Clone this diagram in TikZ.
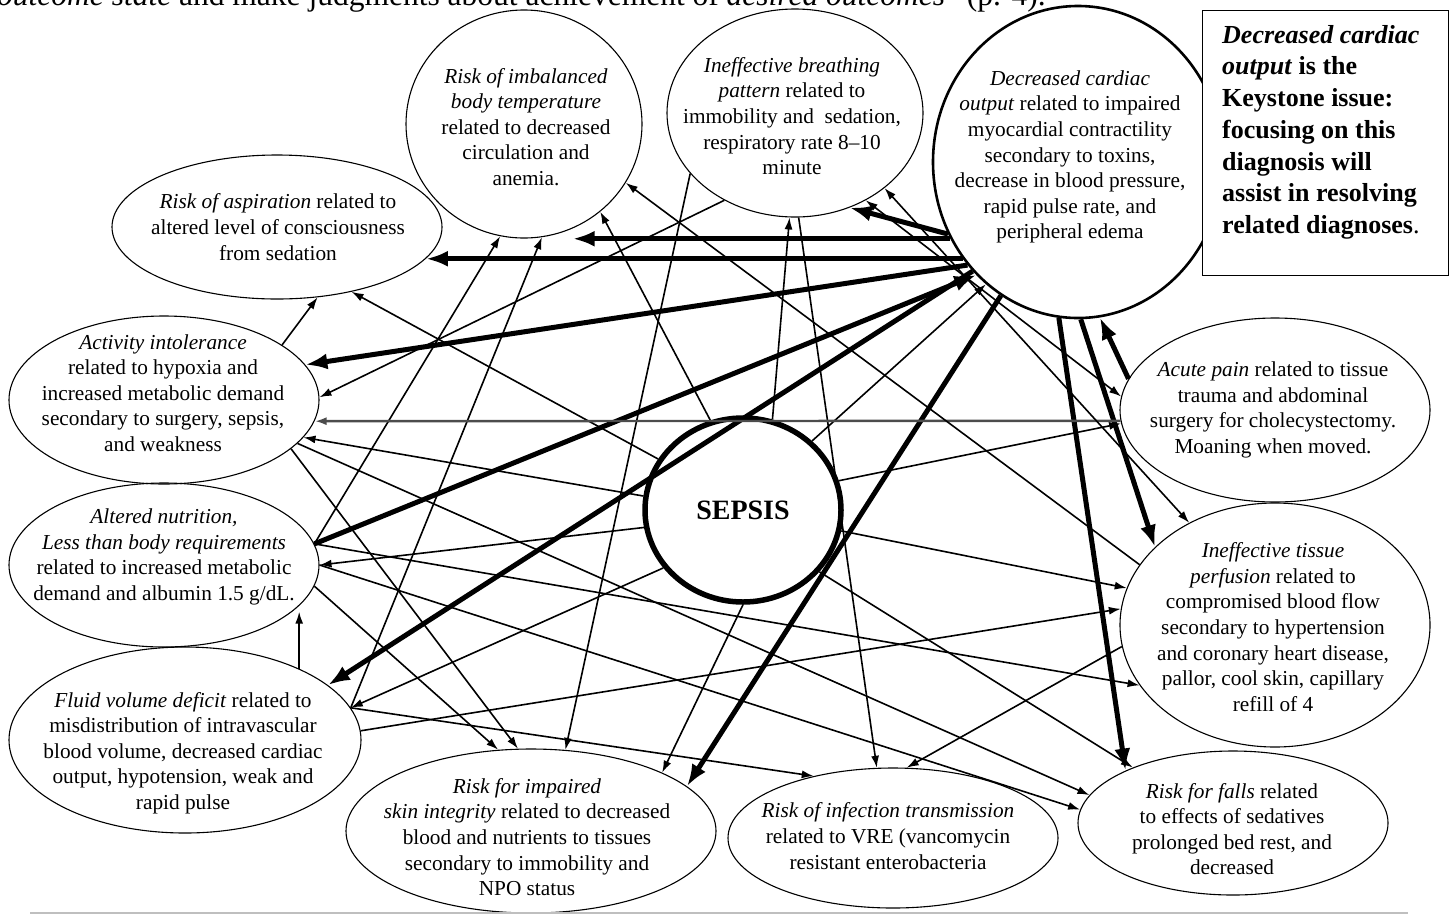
\documentclass[tikz,border=0pt]{standalone}
\usepackage{fontspec}
\setmainfont{Liberation Serif}
\usetikzlibrary{arrows.meta,shapes.geometric}
\def\diagfont{\fontsize{21.3}{25.6}\selectfont}
\def\keyfont{\fontsize{26}{31.7}\selectfont\bfseries}

\begin{document}
\begin{tikzpicture}[x=1pt, y=-1pt,
		diag/.style={draw, ellipse, line width=1.1pt, inner sep=0pt},
		diagtext/.style={align=center, inner sep=0pt, font=\diagfont},
		link/.style={line width=1.6pt, -{Latex[length=12pt, width=8pt]}},
		twoway/.style={line width=1.6pt, {Latex[length=12pt, width=8pt]}-{Latex[length=12pt, width=8pt]}},
		keylink/.style={line width=5pt, -{Latex[length=22pt, width=16pt]}},
		greylink/.style={line width=2.4pt, color=black!70, -{Latex[length=12pt, width=8pt]}}]
			%%%%% START %%%%%
			\useasboundingbox (0, 0) rectangle (1450, 914);
			
			\begin{scope}
				\clip (0, 0) rectangle (1450, 914);
				\node[anchor=base west, inner sep=0pt, font=\fontsize{31.5}{33}\selectfont] (intro) at (-3, 5) {\textit{outcome state} and make judgments about achievement of \textit{desired outcomes}” (p. 4).};
			\end{scope}
			
			% diagnoses
			\node[diag, minimum width=330, minimum height=144] (asp) at (277, 227) {};
			\node[diagtext] (asptext) at (278, 227) {\textit{Risk of aspiration} related to\\altered level of consciousness\\from sedation};
			
			\node[diag, minimum width=236, minimum height=228] (temp) at (524, 124) {};
			\node[diagtext] (temptext) at (526, 127) {\textit{Risk of imbalanced}\\\textit{body temperature}\\related to decreased\\circulation and\\anemia.};
			
			\node[diag, minimum width=256, minimum height=208] (breath) at (795, 113) {};
			\node[diagtext] (breathtext) at (792, 116) {\textit{Ineffective breathing}\\\textit{pattern} related to\\immobility and\ \ sedation,\\respiratory rate 8--10\\minute};
			
			\node[diag, line width=2.6pt, minimum width=290, minimum height=312] (cardiac) at (1078, 162) {};
			\node[diagtext] (cardiactext) at (1070, 157) {\textit{Decreased cardiac}\\\textit{output} related to impaired\\myocardial contractility\\secondary to toxins,\\decrease in blood pressure,\\rapid pulse rate, and\\peripheral edema};
			
			\node[diag, minimum width=310, minimum height=168] (activity) at (164, 400) {};
			\node[diagtext] (activitytext) at (163, 393) {\textit{Activity intolerance}\\related to hypoxia and\\increased metabolic demand\\secondary to surgery, sepsis,\\and weakness};
			
			\node[diag, minimum width=310, minimum height=164] (nutri) at (164, 565) {};
			\node[diagtext] (nutritext) at (164, 557) {\textit{Altered nutrition,}\\\textit{Less than body requirements}\\related to increased metabolic\\demand and albumin 1.5 g/dL.};
			
			\node[diag, minimum width=352, minimum height=186] (fluid) at (185, 740) {};
			\node[diagtext] (fluidtext) at (183, 753) {\textit{Fluid volume deficit} related to\\misdistribution of intravascular\\blood volume, decreased cardiac\\output, hypotension, weak and\\rapid pulse};
			
			\node[diag, minimum width=370, minimum height=164] (skin) at (531, 831) {};
			\node[diagtext] (skintext) at (527, 837) {\textit{Risk for impaired}\\\textit{skin integrity} related to decreased\\blood and nutrients to tissues\\secondary to immobility and\\NPO status};
			
			\node[diag, minimum width=330, minimum height=140] (infect) at (893, 838) {};
			\node[diagtext] (infecttext) at (888, 836) {\textit{Risk of infection transmission}\\related to VRE (vancomycin\\resistant enterobacteria};
			
			\node[diag, minimum width=310, minimum height=144] (falls) at (1233, 823) {};
			\node[diagtext] (fallstext) at (1232, 829) {\textit{Risk for falls} related\\to effects of sedatives\\prolonged bed rest, and\\decreased};
			
			\node[diag, minimum width=310, minimum height=244] (perfus) at (1275, 625) {};
			\node[diagtext] (perfustext) at (1273, 627) {\textit{Ineffective tissue}\\\textit{perfusion} related to\\compromised blood flow\\secondary to hypertension\\and coronary heart disease,\\pallor, cool skin, capillary\\refill of 4};
			
			\node[diag, minimum width=310, minimum height=184] (pain) at (1275, 410) {};
			\node[diagtext] (paintext) at (1273, 410) {\textit{Acute pain} related to tissue\\trauma and abdominal\\surgery for cholecystectomy.\\Moaning when moved.};
			
			\node[diag, line width=5.5pt, minimum width=196, minimum height=184, font=\fontsize{28}{30}\selectfont\bfseries] (sepsis) at (743, 510) {SEPSIS};
			
			% keystone links
			\draw[keylink] (cardiac.211) -- (cardiac.211 -| temp.295);
			\draw[keylink] (cardiac.220) -- (cardiac.220 -| asp.348);
			\draw[keylink] (cardiac.223) -- (activity.14);
			\draw[keylink] (cardiac.209) -- (breath.300);
			\draw[keylink] (cardiac.226) -- (fluid.21);
			\draw[keylink] (cardiac.240) -- (skin.16);
			\draw[keylink] (cardiac.271) -- (perfus.147);
			\draw[keylink] (cardiac.263) -- (falls.154);
			\draw[keylink] (pain.168) -- (cardiac.278);
			\draw[keylink] (nutri.8) -- (cardiac.228);
			
			% sepsis links
			\draw[link] (sepsis.45) -- (cardiac.233);
			\draw[link] (sepsis.149) -- (asp.319);
			\draw[link] (sepsis.110) -- (temp.311);
			\draw[link] (sepsis.72) -- (breath.267);
			\draw[link] (sepsis.172) -- (activity.345);
			\draw[link] (sepsis.190) -- (nutri.0);
			\draw[link] (sepsis.216) -- (fluid.11);
			\draw[link] (sepsis.270) -- (skin.24);
			\draw[link] (sepsis.17) -- (pain.185);
			\draw[link] (sepsis.348) -- (perfus.166);
			\draw[link] (sepsis.321) -- (falls.151);
			
			% other links
			\draw[link] (breath.231) -- (activity.1);
			\draw[link] (breath.210) -- (skin.67);
			\draw[link] (breath.272) -- (infect.103);
			\draw[link] (activity.25) -- (asp.300);
			\draw[link] (nutri.8) -- (temp.258);
			\draw[link] (fluid.11) -- (temp.279);
			\draw[link] (nutri.352) -- (skin.112);
			\draw[link] (activity.339) -- (skin.99);
			\draw[greylink] (pain.184) -- (activity.352);
			\draw[link] (perfus.156) -- (temp.330);
			\draw[twoway] (breath.309) -- (pain.175);
			\draw[twoway] (breath.320) -- (perfus.130);
			\draw[link] (fluid.32) -- (fluid.32 |- nutri.340);
			\draw[link] (fluid.11) -- (infect.142);
			\draw[link] (fluid.3) -- (perfus.174);
			\draw[link] (perfus.188) -- (infect.79);
			\draw[link] (activity.342) -- (falls.169);
			\draw[link] (nutri.0) -- (falls.175);
			\draw[link] (nutri.8) -- (perfus.204);
			
			% keystone note
			\node[draw, fill=white, line width=1.4pt, anchor=north west, inner sep=0pt, minimum width=246, minimum height=265] (keybox) at (1202, 10) {};
			\node[anchor=north west, inner sep=0pt, align=left, font=\keyfont] (keytext) at (1222, 25) {\textit{Decreased cardiac}\\\textit{output} is the\\Keystone issue:\\focusing on this\\diagnosis will\\assist in resolving\\related diagnoses\textmd{.}};
			
			\draw[line width=2pt, color=black!25] (30, 913) -- (1408, 913);
			%%%%% END %%%%%
\end{tikzpicture}
\end{document}
